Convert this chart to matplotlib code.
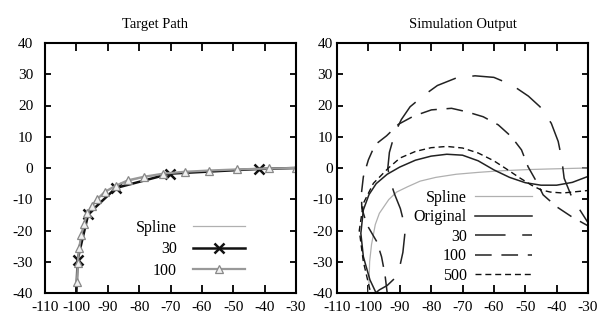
import matplotlib
matplotlib.use("Agg")
from matplotlib import pyplot as plt

plt.rcParams['font.family'] = ['Liberation Serif', 'DejaVu Serif']
plt.rcParams['axes.unicode_minus'] = False
plt.rcParams['lines.scale_dashes'] = False

# target spline (shared by both panels)
spline_x = [-100, -99.8, -99.6, -99.0, -98.4, -97.8, -96.5, -95.0, -93.5, -91.0, -87.5,
            -83.5, -78.5, -72.0, -65.0, -58.0, -49.0, -42.0, -36.0, -30.0]
spline_y = [-40, -36.5, -30.0, -24.5, -21.3, -18.1, -14.5, -12.3, -10.1, -7.7, -6.0,
            -4.2, -3.0, -2.0, -1.4, -0.9, -0.5, -0.3, -0.15, 0.0]

# path sampled with 30 points
p30_x = [-100, -99.6, -96.2, -87.4, -70.1, -41.8, -30]
p30_y = [-40, -29.3, -14.7, -6.4, -1.8, -0.3, 0]

# path sampled with 100 points
p100_x = [-99.8, -99.6, -99.1, -98.4, -97.6, -96.5, -95.0, -93.3, -90.9, -87.5,
          -83.5, -78.5, -72.3, -65.4, -57.7, -48.7, -38.6, -30]
p100_y = [-36.5, -30.5, -25.5, -21.3, -18.0, -14.4, -12.0, -9.9, -7.6, -5.7,
          -3.9, -2.8, -1.8, -1.2, -0.8, -0.45, -0.15, 0]

# simulation outputs
orig_x = [-97.3, -99.5, -101.6, -102.4, -101.6, -99.8, -97.5, -94.0, -90.0, -85.0, -80.0,
          -75.0, -70.0, -65.0, -60.0, -55.0, -50.0, -45.0, -40.0, -35.0, -30.0]
orig_y = [-40.5, -35.8, -28.4, -20.9, -13.4, -8.5, -5.0, -2.0, 0.3, 2.5, 3.8,
          4.4, 4.1, 2.3, -0.6, -3.0, -4.7, -5.5, -5.5, -4.6, -2.7]

sim30_x = [-99.5, -96.5, -94.0, -91.5, -90.2, -89.0, -88.4, -88.8, -89.8, -91.6, -93.1,
           -93.8, -93.3, -91.6, -89.5, -86.7, -82.0, -78.0, -72.0, -66.0, -60.0,
           -54.3, -49.0, -45.3, -41.7, -39.5, -38.4, -37.6, -35.5, -32.6, -30.0]
sim30_y = [-41.5, -39.0, -37.6, -35.2, -32.5, -27.0, -21.3, -17.0, -13.0, -8.5, -4.0,
           0.0, 5.0, 11.0, 15.5, 19.6, 23.5, 26.4, 28.8, 29.5, 29.0,
           26.6, 23.0, 19.6, 14.3, 8.5, 3.1, -3.3, -8.5, -13.4, -17.5]

sim100_x = [-94.0, -94.7, -95.8, -97.3, -100.5, -102.1, -102.2, -101.6, -100.0, -97.9, -94.2,
            -90.4, -85.6, -79.9, -73.5, -68.7, -63.4, -58.6, -54.4, -51.2, -49.1,
            -46.4, -44.3, -40.0, -35.2, -30.0]
sim100_y = [-40.0, -34.2, -28.4, -23.6, -18.1, -12.8, -8.0, -2.8, 2.6, 7.4, 10.3,
            14.0, 16.6, 18.6, 19.1, 18.0, 16.4, 13.8, 10.0, 5.8, 0.4,
            -4.4, -8.6, -12.4, -15.6, -18.5]

sim500_x = [-99.5, -101.6, -102.9, -101.6, -98.4, -93.6, -89.9, -85.0, -80.0, -75.0, -70.0,
            -65.0, -60.0, -56.0, -52.0, -48.0, -45.0, -42.0, -38.0, -34.0, -30.0]
sim500_y = [-39.0, -30.0, -20.0, -11.3, -4.9, 0.0, 3.2, 5.3, 6.5, 6.9, 6.4,
            4.8, 2.3, -0.3, -3.0, -5.5, -7.0, -7.7, -8.0, -7.6, -7.2]

xticks = list(range(-110, -29, 10))
yticks = list(range(-40, 41, 10))

fig = plt.figure(figsize=(6, 3.26), dpi=100)
ax1 = fig.add_axes([45 / 600, 33 / 326, 251 / 600, 250 / 326])
ax2 = fig.add_axes([337 / 600, 33 / 326, 251 / 600, 250 / 326])

ax1.plot(spline_x, spline_y, color='#b0b0b0', lw=0.9, label='Spline')
ax1.plot(p30_x, p30_y, color='#111111', lw=1.8, marker='x', ms=6.5, mew=1.8,
         markevery=[1, 2, 3, 4, 5], label='30')
ax1.plot(p100_x, p100_y, color='#999999', lw=1.6, marker='^', ms=6, mew=0.9,
         mfc='#f0f0f0', mec='#888888', label='100')
ax1.set_title('Target Path', fontsize=10.5, pad=11, x=0.44)
leg1 = ax1.legend(loc='upper right', bbox_to_anchor=(0.83, 0.325), frameon=False,
                  markerfirst=False, fontsize=11.5, handlelength=3.3, handletextpad=1.0,
                  labelspacing=0.35, borderpad=0)

ax2.plot(spline_x, spline_y, color='#b0b0b0', lw=0.9, label='Spline')
ax2.plot(orig_x, orig_y, color='#222222', lw=1.1, label='Original')
ax2.plot(sim30_x, sim30_y, color='#222222', lw=1.1, dashes=(22, 12), label='30')
ax2.plot(sim100_x, sim100_y, color='#222222', lw=1.1, dashes=(12, 7), label='100')
ax2.plot(sim500_x, sim500_y, color='#111111', lw=1.0, dashes=(4.3, 2.8), label='500')
ax2.set_title('Simulation Output', fontsize=10.5, pad=11)
leg2 = ax2.legend(loc='upper right', bbox_to_anchor=(0.81, 0.445), frameon=False,
                  markerfirst=False, fontsize=11.5, handlelength=3.6, handletextpad=0.5,
                  labelspacing=0.22, borderpad=0)

for ax, ypad in [(ax1, 8.5), (ax2, 3)]:
    ax.set_xlim(-110, -30)
    ax.set_ylim(-40, 40)
    ax.set_xticks(xticks)
    ax.set_yticks(yticks)
    ax.tick_params(direction='in', top=True, right=True, width=1.3, labelsize=11)
    ax.tick_params(axis='x', length=6, pad=6)
    ax.tick_params(axis='y', length=4.5, pad=ypad)
    for s in ax.spines.values():
        s.set_linewidth(1.5)

fig.savefig('out.png', dpi=100)
